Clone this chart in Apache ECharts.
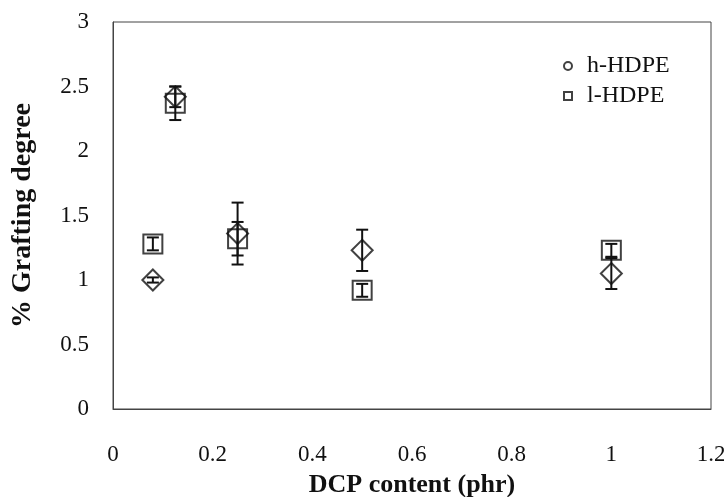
<!DOCTYPE html>
<html>
<head>
<meta charset="utf-8">
<script src="https://cdn.jsdelivr.net/npm/echarts@6/dist/echarts.min.js"></script>
<style>
  html, body { margin: 0; padding: 0; background: #fff; }
  #chart { width: 724px; height: 497px; }
</style>
</head>
<body>
<div id="chart"></div>
<script>
// DCP content (phr)
const dcp = [0.08, 0.125, 0.25, 0.5, 1.0];
// h-HDPE grafting degree and error
const hValues = [1.0, 2.42, 1.36, 1.23, 1.05];
const hErrors = [0.02, 0.08, 0.24, 0.16, 0.12];
// l-HDPE grafting degree and error
const lValues = [1.28, 2.37, 1.32, 0.92, 1.23];
const lErrors = [0.05, 0.13, 0.13, 0.05, 0.05];

const serif = '"Liberation Serif", "DejaVu Serif", serif';

function points(vals) {
    return dcp.map((x, i) => [x, vals[i]]);
}
function errRows(vals, errs) {
    return dcp.map((x, i) => [x, vals[i] - errs[i], vals[i] + errs[i]]);
}

// vertical bar with caps
function renderErr(params, api) {
    const lo = api.coord([api.value(0), api.value(1)]);
    const hi = api.coord([api.value(0), api.value(2)]);
    const w = 6;
    const style = { stroke: '#111', lineWidth: 2 };
    return {
        type: 'group',
        children: [
            { type: 'line', shape: { x1: hi[0], y1: hi[1], x2: lo[0], y2: lo[1] }, style: style },
            { type: 'line', shape: { x1: hi[0] - w, y1: hi[1], x2: hi[0] + w, y2: hi[1] }, style: style },
            { type: 'line', shape: { x1: lo[0] - w, y1: lo[1], x2: lo[0] + w, y2: lo[1] }, style: style }
        ]
    };
}

const chart = echarts.init(document.getElementById('chart'));
chart.setOption({
    backgroundColor: '#fff',
    animation: false,
    grid: {
        left: 113, right: 13, top: 22, bottom: 88,
        outerBoundsMode: 'none', containLabel: false,
        show: true, borderColor: '#444', borderWidth: 1
    },
    legend: {
        left: 558, top: 49, orient: 'vertical',
        itemWidth: 8, itemHeight: 8, itemGap: 6,
        data: [{ name: 'h-HDPE', icon: 'circle' }, { name: 'l-HDPE', icon: 'rect' }],
        textStyle: { fontFamily: serif, fontSize: 24, color: '#111', padding: [0, 0, 0, 10] }
    },
    xAxis: {
        type: 'value', min: 0, max: 1.2, interval: 0.2,
        name: 'DCP content (phr)', nameLocation: 'middle', nameGap: 63,
        nameTextStyle: { fontFamily: serif, fontSize: 26, fontWeight: 'bold', color: '#111' },
        axisLine: { show: true, lineStyle: { color: '#444' } },
        axisTick: { show: false },
        splitLine: { show: false },
        axisLabel: { margin: 34, fontFamily: serif, fontSize: 23, color: '#111' }
    },
    yAxis: {
        type: 'value', min: 0, max: 3, interval: 0.5,
        name: '% Grafting degree', nameLocation: 'middle', nameGap: 76,
        nameTextStyle: { fontFamily: serif, fontSize: 28, fontWeight: 'bold', color: '#111' },
        axisLine: { show: true, lineStyle: { color: '#444' } },
        axisTick: { show: false },
        splitLine: { show: false },
        axisLabel: { margin: 24, fontFamily: serif, fontSize: 23, color: '#111' }
    },
    series: [
        {
            name: 'h-HDPE', type: 'scatter', symbol: 'diamond', symbolSize: 21,
            data: points(hValues), z: 3,
            itemStyle: { color: 'rgba(0,0,0,0)', borderColor: '#111', borderWidth: 2 }
        },
        {
            name: 'l-HDPE', type: 'scatter', symbol: 'rect', symbolSize: 19,
            data: points(lValues), z: 3,
            itemStyle: { color: 'rgba(0,0,0,0)', borderColor: '#111', borderWidth: 2 }
        },
        {
            name: 'h-HDPE err', type: 'custom', renderItem: renderErr,
            data: errRows(hValues, hErrors), z: 2
        },
        {
            name: 'l-HDPE err', type: 'custom', renderItem: renderErr,
            data: errRows(lValues, lErrors), z: 2
        }
    ]
});
</script>
</body>
</html>
